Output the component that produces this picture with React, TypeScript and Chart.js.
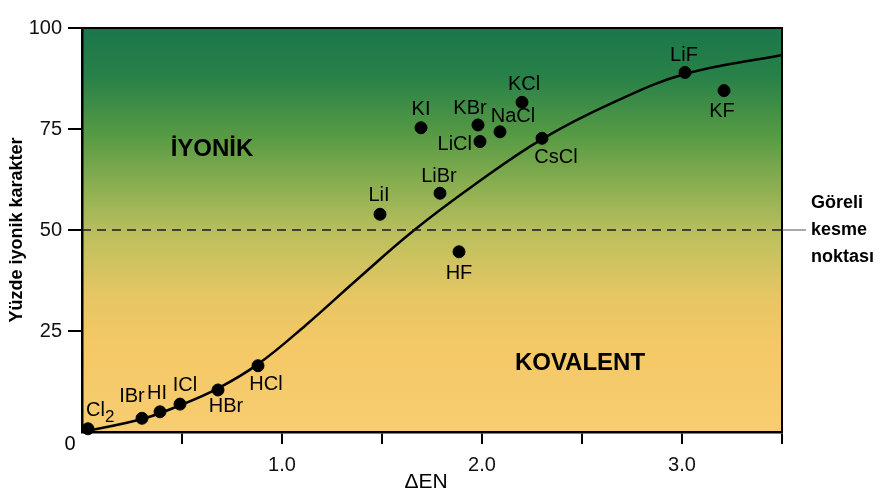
import { useEffect, useRef } from 'react';
import { Chart, registerables } from 'chart.js';

Chart.register(...registerables);

// ---- data ----
const compounds = ['Cl2', 'IBr', 'HI', 'ICl', 'HBr', 'HCl', 'LiI', 'LiBr', 'HF', 'KI', 'KBr', 'LiCl', 'NaCl', 'KCl', 'CsCl', 'LiF', 'KF'];
const deltaEN = [0.03, 0.30, 0.39, 0.49, 0.68, 0.88, 1.49, 1.79, 1.885, 1.695, 1.98, 1.99, 2.09, 2.20, 2.30, 3.015, 3.21];
const ionicPercent = [0.8, 3.4, 5.0, 6.9, 10.4, 16.4, 53.9, 59.1, 44.6, 75.3, 76.0, 71.9, 74.3, 81.6, 72.7, 89.0, 84.5];

const curveEN = [0, 0.30, 0.49, 0.68, 0.88, 1.12, 1.37, 1.657, 1.957, 2.30, 2.657, 3.015, 3.5];
const curvePercent = [0, 3.2, 6.6, 10.8, 16.8, 26.5, 37.5, 49.8, 61.0, 72.5, 81.6, 88.6, 93.3];

const cutoffPercent = 50;
const xRange = [0, 3.5];
const yRange = [0, 100];
const xLabeledTicks = [1, 2, 3];
const yTickStep = 25;
const xTickStep = 0.5;

const regionLabels = ['İYONİK', 'KOVALENT'];
const regionLabelPos = [[0.65, 70], [2.49, 17.1]]; // data coords of text centre
const cutoffLabel = ['Göreli', 'kesme', 'noktası'];
const yTitle = 'Yüzde iyonik karakter';
const xTitle = 'ΔEN';

// label placement relative to dot (pixels): [dx, dy, align]
const labelOffsets: [number, number, CanvasTextAlign][] = [
  [-2, -18, 'left'],
  [-10, -22, 'center'],
  [-3, -18, 'center'],
  [5, -19, 'center'],
  [8, 17, 'center'],
  [8, 19, 'center'],
  [-1, -19, 'center'],
  [-1, -17, 'center'],
  [0, 22, 'center'],
  [0, -18, 'center'],
  [-8, -16, 'center'],
  [-8, 3, 'right'],
  [13, -15, 'center'],
  [2, -18, 'center'],
  [14, 19, 'center'],
  [-1, -17, 'center'],
  [-2, 21, 'center'],
];

const FONT = '"Liberation Sans", Arial, Helvetica, sans-serif';

export default function App() {
  const ref = useRef<HTMLCanvasElement | null>(null);

  useEffect(() => {
    document.body.style.margin = '0';
    const canvas = ref.current;
    if (!canvas) return;

    const decor = {
      id: 'decor',
      beforeDraw(chart: any) {
        const { ctx, chartArea: a } = chart;
        const g = ctx.createLinearGradient(0, a.top, 0, a.bottom);
        g.addColorStop(0, '#1a774a');
        g.addColorStop(0.12, '#288148');
        g.addColorStop(0.27, '#589b44');
        g.addColorStop(0.42, '#97b354');
        g.addColorStop(0.52, '#bfc05e');
        g.addColorStop(0.66, '#e5c663');
        g.addColorStop(0.78, '#f4c866');
        g.addColorStop(1, '#f8cd70');
        ctx.save();
        ctx.fillStyle = g;
        ctx.fillRect(a.left, a.top, a.right - a.left, a.bottom - a.top);
        ctx.restore();
      },
      afterDraw(chart: any) {
        const { ctx, chartArea: a, scales } = chart;
        const xs = scales.x;
        const ys = scales.y;
        ctx.save();
        // top / right border
        ctx.strokeStyle = '#000';
        ctx.lineWidth = 2;
        ctx.beginPath();
        ctx.moveTo(a.left, a.top);
        ctx.lineTo(a.right, a.top);
        ctx.lineTo(a.right, a.bottom);
        ctx.stroke();
        // leader line for cut-off
        const yc = ys.getPixelForValue(cutoffPercent);
        ctx.strokeStyle = '#555';
        ctx.lineWidth = 1;
        ctx.beginPath();
        ctx.moveTo(a.right, yc);
        ctx.lineTo(a.right + 24, yc);
        ctx.stroke();

        ctx.fillStyle = '#000';
        ctx.textBaseline = 'middle';
        // cutoff text
        ctx.font = `bold 18px ${FONT}`;
        ctx.textAlign = 'left';
        cutoffLabel.forEach((t, i) => {
          ctx.fillText(t, a.right + 29, yc - 27 + i * 27);
        });

        // point labels
        ctx.font = `20px ${FONT}`;
        compounds.forEach((name, i) => {
          const px = xs.getPixelForValue(deltaEN[i]);
          const py = ys.getPixelForValue(ionicPercent[i]);
          const [dx, dy, al] = labelOffsets[i];
          ctx.textAlign = al;
          if (name === 'Cl2') {
            ctx.font = `20px ${FONT}`;
            ctx.fillText('Cl', px + dx, py + dy);
            const w = ctx.measureText('Cl').width;
            ctx.font = `17px ${FONT}`;
            ctx.fillText('2', px + dx + w, py + dy + 7);
            ctx.font = `20px ${FONT}`;
          } else {
            ctx.fillText(name, px + dx, py + dy);
          }
        });

        // region labels
        ctx.font = `bold 24px ${FONT}`;
        ctx.textAlign = 'center';
        regionLabels.forEach((t, i) => {
          ctx.fillText(t, xs.getPixelForValue(regionLabelPos[i][0]), ys.getPixelForValue(regionLabelPos[i][1]));
        });

        // origin "0"
        ctx.font = `20px ${FONT}`;
        ctx.textAlign = 'center';
        ctx.fillText('0', a.left - 12, a.bottom + 12);

        // axis titles
        ctx.font = `21px ${FONT}`;
        ctx.fillText(xTitle, xs.getPixelForValue(1.72), a.bottom + 50);
        ctx.save();
        ctx.translate(17, ys.getPixelForValue(50));
        ctx.rotate(-Math.PI / 2);
        ctx.font = `bold 18px ${FONT}`;
        ctx.fillText(yTitle, 0, 0);
        ctx.restore();
        ctx.restore();
      },
    };

    const chart = new Chart(canvas, {
      type: 'scatter',
      data: {
        datasets: [
          {
            label: 'cutoff',
            data: [
              { x: xRange[0], y: cutoffPercent },
              { x: xRange[1], y: cutoffPercent },
            ],
            showLine: true,
            borderColor: '#1a1a1a',
            borderWidth: 1.5,
            borderDash: [9, 6],
            pointRadius: 0,
          },
          {
            label: 'curve',
            data: curveEN.map((x, i) => ({ x, y: curvePercent[i] })),
            showLine: true,
            borderColor: '#000',
            borderWidth: 2.5,
            tension: 0.4,
            pointRadius: 0,
          },
          {
            label: 'compounds',
            data: deltaEN.map((x, i) => ({ x, y: ionicPercent[i] })),
            showLine: false,
            pointRadius: 6,
            pointBackgroundColor: '#000',
            pointBorderColor: '#000',
            clip: false as any,
          },
        ],
      },
      options: {
        animation: false,
        responsive: false,
        events: [],
        layout: { padding: { top: 28, right: 102, left: 0, bottom: 0 } },
        plugins: { legend: { display: false }, tooltip: { enabled: false } },
        scales: {
          x: {
            type: 'linear',
            min: xRange[0],
            max: xRange[1],
            afterFit: (s: any) => { s.height = 67; },
            afterBuildTicks: (s: any) => {
              const t = [];
              for (let v = xRange[0]; v <= xRange[1] + 1e-9; v += xTickStep) t.push({ value: Math.round(v * 10) / 10 });
              s.ticks = t;
            },
            ticks: {
              autoSkip: false,
              maxRotation: 0,
              padding: 9,
              color: '#111',
              font: { family: FONT, size: 20 },
              callback: (v: any) => (xLabeledTicks.includes(Number(v)) ? Number(v).toFixed(1) : ''),
            },
            grid: {
              drawOnChartArea: false,
              drawTicks: true,
              tickLength: 12,
              lineWidth: 2,
              color: (c: any) => (c.tick && c.tick.value === 0 ? 'rgba(0,0,0,0)' : '#000'),
            },
            border: { display: true, color: '#000', width: 2.5 },
          },
          y: {
            type: 'linear',
            min: yRange[0],
            max: yRange[1],
            afterFit: (s: any) => { s.width = 82; },
            ticks: {
              stepSize: yTickStep,
              padding: 6,
              color: '#111',
              font: { family: FONT, size: 20 },
              callback: (v: any) => (Number(v) === 0 ? '' : String(v)),
            },
            grid: {
              drawOnChartArea: false,
              drawTicks: true,
              tickLength: 14,
              lineWidth: 2,
              color: (c: any) => (c.tick && c.tick.value === 0 ? 'rgba(0,0,0,0)' : '#000'),
            },
            border: { display: true, color: '#000', width: 2.5 },
          },
        },
      },
      plugins: [decor],
    });

    return () => chart.destroy();
  }, []);

  return (
    <div style={{ position: 'fixed', left: 0, top: 0, width: 884, height: 499, background: '#fff' }}>
      <canvas ref={ref} width={884} height={499} />
    </div>
  );
}
